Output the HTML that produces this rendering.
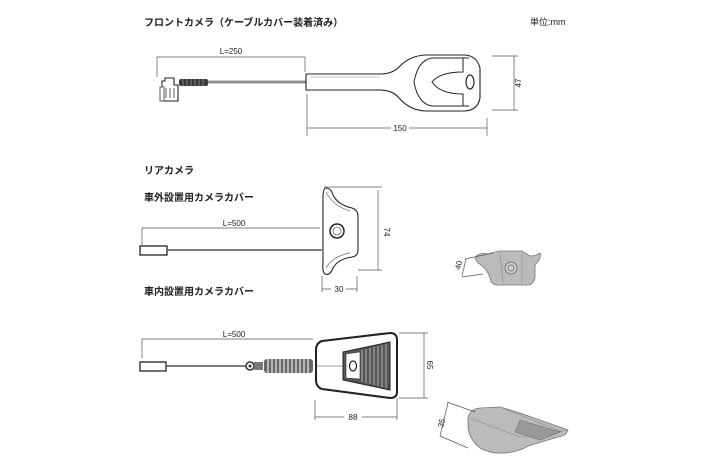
<!DOCTYPE html>
<html><head><meta charset="utf-8"><style>
html,body{margin:0;padding:0;background:#fff;}
svg{display:block;}
text{font-family:"Liberation Sans","Noto Sans CJK JP",sans-serif;fill:#222;}
.j{font-size:10px;font-weight:bold;}
.d{font-size:8px;}
.dim{stroke:#555;stroke-width:0.7;fill:none;}
.o{stroke:#222;stroke-width:1.1;fill:#fff;}
</style></head><body>
<svg width="710" height="474" viewBox="0 0 710 474" xmlns="http://www.w3.org/2000/svg">
<text x="144" y="26" class="j">フロントカメラ（ケーブルカバー装着済み）</text>
<text x="530" y="25" class="d" style="font-size:9px">単位:mm</text>

<path class="dim" d="M157 77V57H305M305 57V72M307 94V136M487 118V136M307 128H487M492 56H518M492 110H518M514 56V110"/>
<text x="231" y="54" class="d" text-anchor="middle">L=250</text>
<rect x="391" y="123" width="18" height="9" fill="#fff"/>
<text x="400" y="131" class="d" text-anchor="middle">150</text>
<text x="521" y="83" class="d" transform="rotate(-90 521 83)" text-anchor="middle">47</text>
<path class="o" d="M164 101H178V85H174V78H165V81H162V101Z"/>
<path d="M160 87h4v14h-4zM166 88v10M170 88v10M174 88v10" stroke="#333" stroke-width="0.8" fill="#fff"/>
<rect x="179" y="79" width="29" height="7" rx="2" fill="#3a3a3a"/>
<path d="M183 79v7M187 79v7M191 79v7M195 79v7M199 79v7M203 79v7" stroke="#aaa" stroke-width="0.6"/>
<line x1="208" y1="82" x2="306" y2="82" stroke="#444" stroke-width="2.4"/>
<line x1="208" y1="82" x2="306" y2="82" stroke="#fff" stroke-width="0.8"/>
<path class="o" d="M306 74H380Q393 74 400 66Q410 56 425 55H465Q477 56 480 68V98Q478 110 465 111H425Q410 110 400 99Q393 90 380 90H306Z"/>
<path d="M310 77H380" stroke="#888" stroke-width="0.6"/>
<path d="M469 58H432Q418 60 414 82Q418 104 432 106H469" fill="none" stroke="#222" stroke-width="1"/>
<path d="M463 58V72Q440 72 432 82Q440 94 463 94V106" fill="#fff" stroke="#222" stroke-width="1"/>
<ellipse cx="470" cy="82" rx="4" ry="7" fill="#fff" stroke="#222" stroke-width="1.2"/>

<text x="144" y="174" class="j">リアカメラ</text>
<text x="144" y="201" class="j">車外設置用カメラカバー</text>
<text x="144" y="295" class="j">車内設置用カメラカバー</text>

<path class="dim" d="M142 245V228H320M324 187H382M358 270H382M378 190V270M322 276V292M357 276V292M322 289H331M346 289H357"/>
<text x="234" y="226" class="d" text-anchor="middle">L=500</text>
<text x="384" y="232" class="d" transform="rotate(90 384 232)" text-anchor="middle">74</text>
<text x="339" y="292" class="d" text-anchor="middle">30</text>
<rect x="140" y="246" width="27" height="9" fill="#fff" stroke="#222" stroke-width="1.3"/>
<line x1="167" y1="250" x2="322" y2="250" stroke="#555" stroke-width="1.5"/>
<path class="o" d="M326 188Q331 188 333 195Q338 205 352 208Q358 210 358 216V250Q358 256 352 257Q338 259 333 268Q330 276 325 274Q322 272 323 262V198Q323 188 326 188Z"/>
<path d="M326 192Q333 206 350 211M326 268Q333 256 350 253" fill="none" stroke="#666" stroke-width="0.7"/>
<circle cx="337" cy="231" r="7" fill="#fff" stroke="#222" stroke-width="1.5"/>
<circle cx="337" cy="231" r="4" fill="#fff" stroke="#666" stroke-width="0.8"/>
<path d="M475 258Q478 252 488 254L499 251H522L530 256Q536 256 540 253Q542 258 535 265V278Q533 286 525 285H500Q491 286 490 278Q487 268 478 263Z" fill="#bbb" stroke="#777" stroke-width="0.8"/>
<path d="M500 253L503 283M522 253L522 283" stroke="#888" stroke-width="0.6"/>
<circle cx="511" cy="268" r="6" fill="#ccc" stroke="#666" stroke-width="0.8"/>
<circle cx="511" cy="268" r="3" fill="none" stroke="#666" stroke-width="0.7"/>
<path class="dim" d="M465 259L493 253M462 277L483 274M466 259L462 276"/>
<text x="460" y="270" class="d" transform="rotate(-75 460 270)">40</text>

<path class="dim" d="M142 358V339H313M399 333H428M399 398H428M424 333V398M315 400V420M397 398V420M315 417H344M362 417H397"/>
<text x="234" y="337" class="d" text-anchor="middle">L=500</text>
<text x="427" y="365" class="d" transform="rotate(90 427 365)" text-anchor="middle">65</text>
<text x="353" y="420" class="d" text-anchor="middle">88</text>
<rect x="140" y="362" width="26" height="9" fill="#fff" stroke="#222" stroke-width="1.3"/>
<line x1="166" y1="366" x2="246" y2="366" stroke="#555" stroke-width="1.5"/>
<circle cx="250" cy="366" r="4" fill="#fff" stroke="#333" stroke-width="1.5"/>
<circle cx="250" cy="366" r="1.5" fill="#333"/>
<rect x="254" y="362" width="9" height="8" fill="#777"/>
<rect x="264" y="359" width="49" height="14" rx="3" fill="#666"/>
<path d="M268 359v14M272 359v14M276 359v14M280 359v14M284 359v14M288 359v14M292 359v14M296 359v14M300 359v14M304 359v14M308 359v14" stroke="#eee" stroke-width="1.2"/>
<path d="M322 341L390 333Q397 333 397 340V392Q397 398 390 398L322 389Q316 387 316 380V350Q316 343 322 341Z" fill="#fff" stroke="#222" stroke-width="2"/>
<line x1="316" y1="366" x2="343" y2="366" stroke="#333" stroke-width="0.6"/>
<path d="M343 352L390 342V390L343 380Z" fill="#555" stroke="#222"/>
<path d="M346 354L360 352V379L346 378Z" fill="#fff" stroke="#333" stroke-width="0.6"/>
<path d="M362 350v32M366 349v34M370 348v36M374 347v38M378 346v40M382 345v42M386 344v44" stroke="#ddd" stroke-width="0.7"/>
<ellipse cx="353" cy="366" rx="3.5" ry="5" fill="#fff" stroke="#222" stroke-width="1.2"/>
<path d="M468 418Q470 409 480 408L500 407Q510 410 520 413L568 430Q566 436 558 437L528 446Q518 452 505 453Q490 454 480 448Q470 440 468 428Z" fill="#bbb" stroke="#777" stroke-width="0.8"/>
<path d="M470 418L520 437L568 430M500 407L562 432" fill="none" stroke="#888" stroke-width="0.6"/>
<path d="M520 420L560 432L540 440L515 432Z" fill="#999" stroke="#666" stroke-width="0.5"/>
<path class="dim" d="M447 402L475 412M440 436L468 448M448 403L440 436"/>
<text x="443" y="428" class="d" transform="rotate(-75 443 428)">35</text>
</svg>
</body></html>
